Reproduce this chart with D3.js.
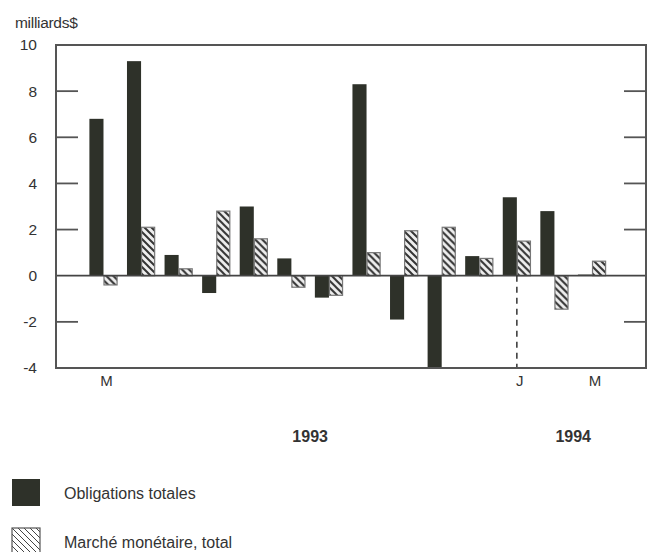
<!DOCTYPE html>
<html>
<head>
<meta charset="utf-8">
<script src="https://cdn.jsdelivr.net/npm/d3@7"></script>
<style>
  body { margin: 0; background: #fff; }
  svg { display: block; font-family: 'Liberation Sans', Arial, sans-serif; }
</style>
</head>
<body>
<div id="chart"></div>
<script>
// monthly periods, Feb 1993 to Mar 1994
const periods = ['p01', 'p02', 'p03', 'p04', 'p05', 'p06', 'p07', 'p08', 'p09', 'p10', 'p11', 'p12', 'p13', 'p14'];
const obligations = [6.8, 9.3, 0.9, -0.75, 3.0, 0.75, -0.95, 8.3, -1.9, -4.0, 0.85, 3.4, 2.8, 0.05];
const marche = [-0.4, 2.1, 0.3, 2.8, 1.6, -0.5, -0.85, 1.0, 1.95, 2.1, 0.75, 1.5, -1.45, 0.63];
const monthLabels = [{p: 'p01', t: 'M'}, {p: 'p12', t: 'J'}, {p: 'p14', t: 'M'}];
const yearLabels = [{after: 'p06', t: '1993'}, {after: 'p13', t: '1994'}];
const yTicks = [10, 8, 6, 4, 2, 0, -2, -4];
const innerTicks = [8, 6, 4, 2, -2];
const legendItems = ['Obligations totales', 'Marché monétaire, total'];

const W = 652, H = 552;
const frame = {left: 56, right: 646, top: 45, bottom: 368};
const dark = '#2e3129';

const svg = d3.select('#chart').append('svg').attr('width', W).attr('height', H);

// hatch pattern for the money market series
const defs = svg.append('defs');
const pat = defs.append('pattern')
  .attr('id', 'hatch')
  .attr('patternUnits', 'userSpaceOnUse')
  .attr('width', 7).attr('height', 7);
pat.append('rect').attr('width', 7).attr('height', 7).attr('fill', '#eeeeee');
pat.append('path')
  .attr('d', 'M0,0 L7,7 M-2,5 L2,9 M5,-2 L9,2')
  .attr('stroke', '#333').attr('stroke-width', 2);

const legPat = defs.append('pattern')
  .attr('id', 'hatch-legend')
  .attr('patternUnits', 'userSpaceOnUse')
  .attr('width', 6).attr('height', 6);
legPat.append('rect').attr('width', 6).attr('height', 6).attr('fill', '#fff');
legPat.append('path')
  .attr('d', 'M0,0 L6,6 M-2,4 L2,8 M4,-2 L8,2')
  .attr('stroke', '#444').attr('stroke-width', 1);

const y = d3.scaleLinear().domain([-4, 10]).range([frame.bottom, frame.top]);
const x = d3.scaleBand().domain(periods).range([84.7, 610.8]).paddingInner(0.25).paddingOuter(0.125);
const xs = d3.scaleBand().domain(['obl', 'mar']).range([0, x.bandwidth()]);

const rows = periods.map((p, i) => ({p: p, obl: obligations[i], mar: marche[i]}));

// unit label
svg.append('text')
  .attr('x', 15).attr('y', 28)
  .attr('font-size', 15.5).attr('fill', '#333')
  .style('letter-spacing', '-0.3px')
  .text('milliards$');

// y tick labels
svg.selectAll('text.ytick')
  .data(yTicks)
  .enter().append('text')
  .attr('class', 'ytick')
  .attr('x', 37).attr('y', d => y(d))
  .attr('dy', '0.35em')
  .attr('text-anchor', 'end')
  .attr('font-size', 15.5).attr('fill', '#333')
  .text(d => d);

// bars
const g = svg.append('g');
const grp = g.selectAll('g.grp')
  .data(rows)
  .enter().append('g')
  .attr('class', 'grp')
  .attr('transform', d => 'translate(' + x(d.p) + ',0)');

grp.append('rect')
  .attr('x', xs('obl'))
  .attr('width', xs.bandwidth())
  .attr('y', d => y(Math.max(0, d.obl)))
  .attr('height', d => Math.max(1, Math.abs(y(d.obl) - y(0))))
  .attr('fill', dark);

grp.append('rect')
  .attr('x', xs('mar') + 0.5)
  .attr('width', xs.bandwidth() - 1)
  .attr('y', d => y(Math.max(0, d.mar)))
  .attr('height', d => Math.abs(y(d.mar) - y(0)))
  .attr('fill', 'url(#hatch)')
  .attr('stroke', '#777').attr('stroke-width', 1.2);

// inner ticks, both sides
svg.selectAll('line.ltick')
  .data(innerTicks)
  .enter().append('line')
  .attr('x1', frame.left).attr('x2', frame.left + 22)
  .attr('y1', d => y(d)).attr('y2', d => y(d))
  .attr('stroke', '#555').attr('stroke-width', 1.8);
svg.selectAll('line.rtick')
  .data(innerTicks)
  .enter().append('line')
  .attr('x1', frame.right - 22).attr('x2', frame.right)
  .attr('y1', d => y(d)).attr('y2', d => y(d))
  .attr('stroke', '#555').attr('stroke-width', 1.8);

// zero line
svg.append('line')
  .attr('x1', frame.left).attr('x2', frame.right)
  .attr('y1', y(0)).attr('y2', y(0))
  .attr('stroke', '#444').attr('stroke-width', 1.8);

// dashed separator at January
const jan = x('p12') + x.bandwidth() / 2;
svg.append('line')
  .attr('x1', jan).attr('x2', jan)
  .attr('y1', y(0)).attr('y2', frame.bottom)
  .attr('stroke', '#333').attr('stroke-width', 1.5)
  .attr('stroke-dasharray', '6,5');

// frame
svg.append('rect')
  .attr('x', frame.left).attr('y', frame.top)
  .attr('width', frame.right - frame.left)
  .attr('height', frame.bottom - frame.top)
  .attr('fill', 'none').attr('stroke', '#555').attr('stroke-width', 2);

// month labels
svg.selectAll('text.month')
  .data(monthLabels)
  .enter().append('text')
  .attr('x', d => x(d.p) + x.bandwidth() / 2 + 3)
  .attr('y', 386)
  .attr('text-anchor', 'middle')
  .attr('font-size', 15).attr('fill', '#333')
  .text(d => d.t);

// year labels
svg.selectAll('text.year')
  .data(yearLabels)
  .enter().append('text')
  .attr('x', d => x(d.after) + x.bandwidth() / 2 + x.step() / 2)
  .attr('y', 442)
  .attr('text-anchor', 'middle')
  .attr('font-size', 16).attr('font-weight', 'bold').attr('fill', '#333')
  .text(d => d.t);

// legend
const leg = svg.selectAll('g.leg')
  .data(legendItems)
  .enter().append('g')
  .attr('transform', (d, i) => 'translate(12,' + (479 + i * 49) + ')');
leg.append('rect')
  .attr('width', 28).attr('height', 27)
  .attr('fill', (d, i) => i === 0 ? dark : 'url(#hatch-legend)')
  .attr('stroke', (d, i) => i === 0 ? 'none' : '#555')
  .attr('stroke-width', 1.2);
leg.append('text')
  .attr('x', 52).attr('y', 14)
  .attr('dy', '0.35em')
  .attr('font-size', 16).attr('fill', '#333')
  .text(d => d);
</script>
</body>
</html>
